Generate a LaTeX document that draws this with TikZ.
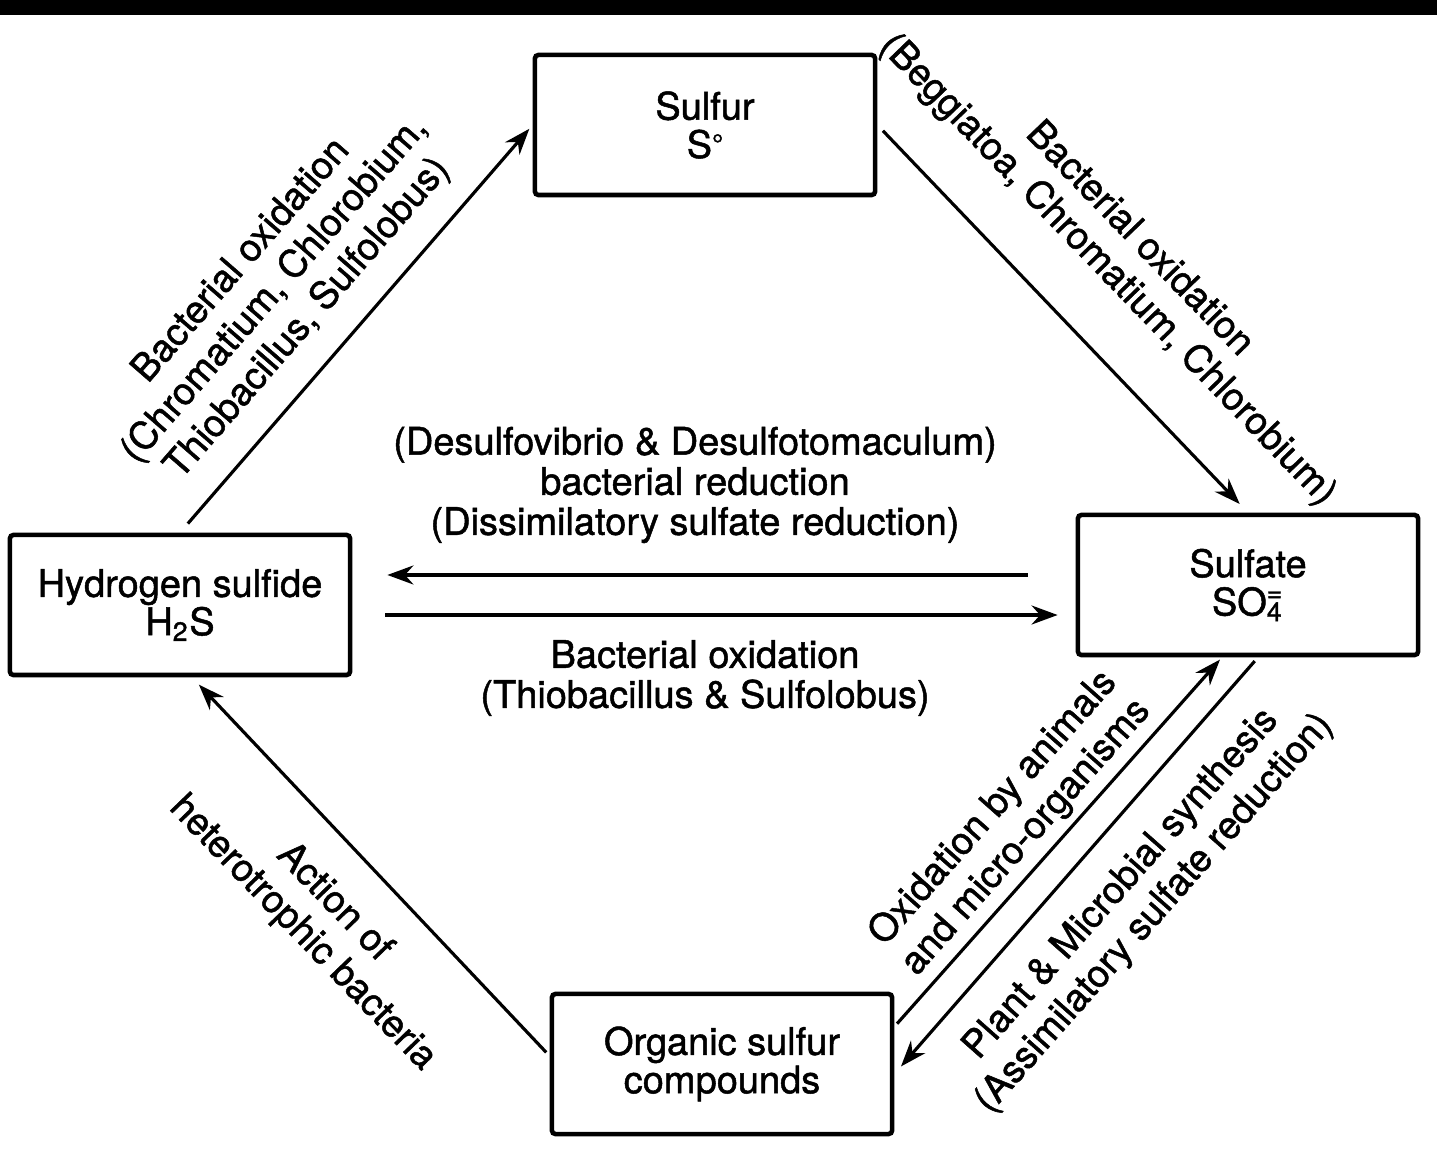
\documentclass[tikz,border=0pt]{standalone}
\usepackage{fontspec}
\setmainfont{TeX Gyre Heros}[BoldFont=TeX Gyre Heros, BoldFeatures={FakeBold=1.3}]
\usetikzlibrary{arrows.meta}

\begin{document}
\begin{tikzpicture}[x=0.01cm,y=-0.01cm]
    % Use a heavy Helvetica-like font at the size of the scan
    \tikzstyle{every node}=[font=\fontsize{10.8}{11.4}\selectfont\bfseries]
    \tikzstyle{box}=[draw, line width=1.3pt, rounded corners=1pt, inner sep=0pt,
        minimum width=3.4cm, minimum height=1.4cm, align=center,
        font=\fontsize{10.8}{10.9}\selectfont\bfseries]
    \tikzstyle{lbl}=[align=center, inner sep=0pt]
    \tikzstyle{slant}=[lbl, font=\fontsize{10.8}{12.5}\selectfont\bfseries]
    \tikzstyle{arr}=[line width=0.9pt, -{Stealth[length=2.6mm,width=1.9mm]}]

    % Fix the page size and draw the dark edge of the scan
    \useasboundingbox (0,0) rectangle (1437,1171);
    \fill (0,0) rectangle (1437,15);

    % Draw the four compartments
    \node[box] (sulfur) at (705,125) {Sulfur\\S\raisebox{0.2ex}{\footnotesize °}};
    \node[box] (sulfate) at (1248,585) {Sulfate\\SO\rlap{\textsubscript{4}}\textsuperscript{=}};
    \node[box] (hs) at (180,605) {Hydrogen sulfide\\H\textsubscript{2}S};
    \node[box] (organic) at (722,1064) {Organic sulfur\\compounds};

    % Draw the arrows of the cycle
    \draw[arr, shorten <=0.12cm, shorten >=0.05cm] (hs.north) -- (sulfur.west);
    \draw[arr, shorten <=0.08cm, shorten >=0.12cm] (sulfur.east) -- (sulfate.north);
    \draw[arr, shorten <=0.48cm, shorten >=0.35cm] ([yshift=0.1cm]sulfate.west) -- ([yshift=0.1cm]sulfate.west -| hs.east);
    \draw[arr, shorten <=0.33cm, shorten >=0.18cm] ([yshift=-0.3cm]sulfate.west -| hs.east) -- ([yshift=-0.3cm]sulfate.west);
    \draw[arr, shorten <=0.05cm, shorten >=0.1cm] ([yshift=0.08cm]organic.west) -- ([xshift=0.12cm]hs.south);
    \draw[arr, shorten <=0.04cm, shorten >=0.03cm] ([yshift=-0.35cm]organic.north east) -- ([xshift=-0.26cm]sulfate.south);
    \draw[arr, shorten <=0.05cm, shorten >=0.1cm] ([xshift=0.1cm]sulfate.south) -- ([yshift=-0.1cm]organic.east);

    % Label the arrows along their slope
    \node[slant, rotate=49] (lblhs) at (275,290) {Bacterial oxidation\\(Chromatium, Chlorobium,\\Thiobacillus, Sulfolobus)};
    \node[slant, rotate=-46] (lblss) at (1123,255) {Bacterial oxidation\\(Beggiatoa, Chromatium, Chlorobium)};
    \node[lbl] (lblred) at (695,485) {(Desulfovibrio \& Desulfotomaculum)\\bacterial reduction\\(Dissimilatory sulfate reduction)};
    \node[lbl] (lblox) at (705,678) {Bacterial oxidation\\(Thiobacillus \& Sulfolobus)};
    \node[slant, rotate=-46] (lblhet) at (318,918) {Action of\\heterotrophic bacteria};
    \node[slant, rotate=48.5] (lblani) at (1010,823) {Oxidation by animals\\and micro-organisms};
    \node[slant, rotate=48.5] (lblpla) at (1138,899) {Plant \& Microbial synthesis\\(Assimilatory sulfate reduction)};

\end{tikzpicture}
\end{document}
